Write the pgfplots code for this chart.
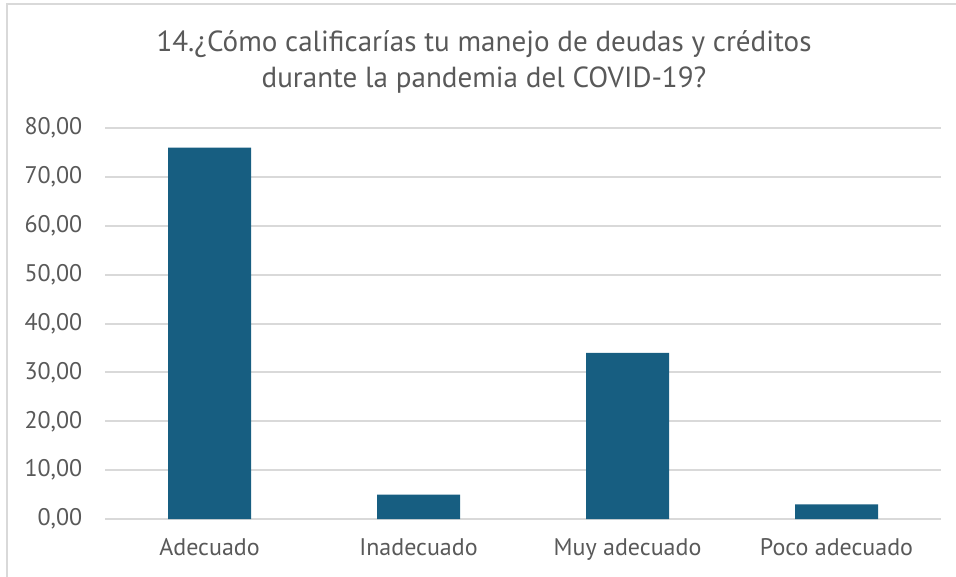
\documentclass[border=0pt]{standalone}
\usepackage{pgfplots}
\pgfplotsset{compat=1.18}
\usepackage{fontspec}
\setmainfont{PT Sans}
\definecolor{barblue}{HTML}{175E81}
\definecolor{gridgray}{HTML}{D9D9D9}
\definecolor{txtgray}{HTML}{595959}
\begin{document}
\begin{tikzpicture}
\useasboundingbox (0pt,0pt) rectangle (717pt,432pt);
% marco del grafico
\draw[gridgray, line width=1.5pt] (5.25pt,-4pt) -- (5.25pt,429pt) -- (724pt,429pt);
% titulo
\node[txtgray, font=\fontsize{21.8}{26.5}\selectfont, align=center] at (363pt,385.5pt)
  {14.¿Cómo calificarías tu manejo de deudas y créditos\\durante la pandemia del COVID-19?};
\begin{axis}[
    at={(78.75pt,42.75pt)}, anchor=south west,
    scale only axis,
    width=627pt, height=293.25pt,
    ymin=0, ymax=80, ytick={0,10,...,80},
    xmin=-0.5, xmax=3.5,
    xtick=data,
    xticklabels={Adecuado,Inadecuado,Muy adecuado,Poco adecuado},
    ymajorgrids, grid style={gridgray, line width=1.5pt},
    axis line style={draw=none},
    axis x line*=bottom,
    major tick length=0pt,
    tick label style={txtgray, font=\fontsize{18}{22}\selectfont},
    /pgf/number format/fixed, /pgf/number format/fixed zerofill,
    /pgf/number format/precision=2, /pgf/number format/use comma,
    /pgf/number format/assume math mode=true,
    xticklabel style={yshift=-11pt},
    yticklabel style={xshift=-13.5pt},
    ybar, bar width=62.25pt,
    clip=false,
]
\draw[gridgray, line width=1.5pt] (axis cs:-0.5,0) -- (axis cs:3.5,0);
\addplot[fill=barblue, draw=none] coordinates {(0,76) (1,5) (2,34) (3,3)};
\end{axis}
\end{tikzpicture}
\end{document}
